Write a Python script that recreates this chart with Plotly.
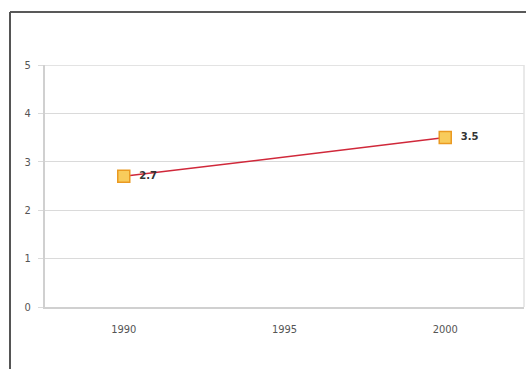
import plotly.graph_objects as go

# Series data
years = [1990, 2000]
values = [2.7, 3.5]
value_labels = ["2.7", "3.5"]
x_ticks = [1990, 1995, 2000]
y_ticks = [0, 1, 2, 3, 4, 5]

W, H = 526, 369
ML, MR, MT, MB = 45, 2, 65, 62
pw = W - ML - MR
ph = H - MT - MB

fig = go.Figure()
fig.add_trace(go.Scatter(
    x=years, y=values,
    mode="lines+markers+text",
    line=dict(color="#D0283A", width=1.5),
    marker=dict(symbol="square", size=12, color="#F8CC5C",
                line=dict(color="#EA9A22", width=1.5)),
    text=["  " + t for t in value_labels],
    textposition="middle right",
    textfont=dict(family="DejaVu Sans", size=10, color="#333333", weight="bold"),
    cliponaxis=False,
    hoverinfo="skip",
))

# Outer frame: left and top edges
fx = (10 - ML) / pw
fy = (H - MB - 12) / ph
fb = (H - MB - H) / ph
fig.add_shape(type="line", xref="paper", yref="paper", x0=fx, x1=(W - ML) / pw + 0.01,
              y0=fy, y1=fy, line=dict(color="#222222", width=1.5))
fig.add_shape(type="line", xref="paper", yref="paper", x0=fx, x1=fx,
              y0=fy, y1=fb - 0.01, line=dict(color="#555555", width=2))
# Light right edge of the plot area
fig.add_shape(type="line", xref="paper", yref="paper", x0=1, x1=1, y0=0, y1=1,
              line=dict(color="#E2E2E2", width=1.5))
# Grid line at the top of the value range
fig.add_shape(type="line", xref="paper", yref="y", x0=0, x1=1, y0=max(y_ticks), y1=max(y_ticks),
              line=dict(color="#DADADA", width=1.5), layer="below")

fig.update_layout(
    width=W, height=H,
    margin=dict(l=ML, r=MR, t=MT, b=MB),
    paper_bgcolor="white", plot_bgcolor="white",
    showlegend=False,
    xaxis=dict(range=[1987.55, 2002.45], tickvals=x_ticks, ticktext=[str(v) for v in x_ticks],
               showgrid=False, zeroline=False, showline=True, linecolor="#D0D0D0", linewidth=2,
               ticks="", tickfont=dict(family="DejaVu Sans Condensed", size=11, color="#555555"),
               ticklabelstandoff=11),
    yaxis=dict(range=[0, 5], tickvals=y_ticks, showgrid=True, gridcolor="#DADADA", gridwidth=1,
               zeroline=False, showline=True, linecolor="#D0D0D0", linewidth=2,
               ticks="outside", ticklen=5, tickcolor="#DADADA",
               tickfont=dict(family="DejaVu Sans Condensed", size=11, color="#555555"),
               ticklabelstandoff=5),
)

fig.write_html("out.html")
